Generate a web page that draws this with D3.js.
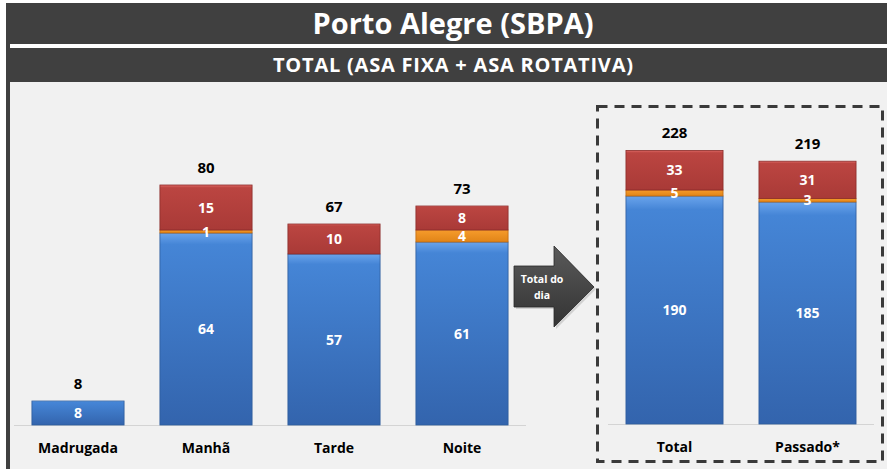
<!DOCTYPE html>
<html><head><meta charset="utf-8">
<script src="https://cdn.jsdelivr.net/npm/d3@7/dist/d3.min.js"></script>
<style>body{margin:0;background:#fff;}svg{display:block;font-family:"Open Sans",sans-serif;}</style>
</head><body>
<svg id="c" width="887" height="469"></svg>
<script>
const title = "Porto Alegre (SBPA)";
const subtitle = "TOTAL (ASA FIXA + ASA ROTATIVA)";
const periods = ["Madrugada", "Manhã", "Tarde", "Noite"];
const periodBlue = [8, 64, 57, 61];
const periodOrange = [0, 1, 0, 4];
const periodRed = [0, 15, 10, 8];
const summary = ["Total", "Passado*"];
const summaryBlue = [190, 185];
const summaryOrange = [5, 3];
const summaryRed = [33, 31];
const arrowText = ["Total do", "dia"];

const svg = d3.select("#c");
const defs = svg.append("defs");
function grad(id, c1, c2, c3) {
  const g = defs.append("linearGradient").attr("id", id).attr("x1", 0).attr("y1", 0).attr("x2", 0).attr("y2", 1);
  g.append("stop").attr("offset", "0").attr("stop-color", c1);
  g.append("stop").attr("offset", "0.06").attr("stop-color", c2);
  g.append("stop").attr("offset", "1").attr("stop-color", c3);
}
grad("gBlue", "#6aa4ec", "#4585d6", "#3364ad");
grad("gRed", "#e06a66", "#bb4541", "#a93a37");
grad("gOrange", "#ffc060", "#f59a2a", "#e08418");
const fills = {blue: "url(#gBlue)", orange: "url(#gOrange)", red: "url(#gRed)"};
const strokes = {blue: "#2e5c9c", orange: "#c06a10", red: "#8a2c2a"};

// frame
svg.append("rect").attr("x", 6).attr("y", 3).attr("width", 881).attr("height", 466).attr("fill", "#404040");
svg.append("rect").attr("x", 10).attr("y", 82).attr("width", 877).attr("height", 387).attr("fill", "#f1f1f1");
svg.append("rect").attr("x", 10).attr("y", 44).attr("width", 877).attr("height", 4).attr("fill", "#ffffff");
svg.append("text").attr("x", 453).attr("y", 34).attr("text-anchor", "middle").attr("fill", "#fff")
  .attr("font-size", 29).attr("font-weight", "bold").text(title);
svg.append("text").attr("x", 453).attr("y", 72).attr("text-anchor", "middle").attr("fill", "#fff")
  .attr("font-size", 20).attr("font-weight", "bold").attr("textLength", 360).text(subtitle);

function drawChart(cats, blue, orange, red, xRange, baseY, pxPerUnit, padIn) {
  const maxV = d3.max(cats.map((c, i) => blue[i] + orange[i] + red[i]));
  const x = d3.scaleBand().domain(cats).range(xRange).paddingInner(padIn).paddingOuter(padIn / 2);
  const y = d3.scaleLinear().domain([0, maxV]).range([baseY, baseY - maxV * pxPerUnit]);
  const g = svg.append("g");
  g.append("line").attr("x1", xRange[0]).attr("x2", xRange[1]).attr("y1", baseY + 0.5).attr("y2", baseY + 0.5)
    .attr("stroke", "#d4d4d4").attr("stroke-width", 1);
  const rows = cats.map((c, i) => {
    const segs = [];
    let acc = 0;
    [["blue", blue[i]], ["orange", orange[i]], ["red", red[i]]].forEach(([k, v]) => {
      if (v > 0) segs.push({cat: c, key: k, v, y0: acc, y1: acc + v});
      acc += v;
    });
    return {cat: c, total: acc, segs};
  });
  const all = rows.flatMap(r => r.segs);
  g.selectAll("rect.seg").data(all).join("rect").attr("class", "seg")
    .attr("x", d => x(d.cat)).attr("width", x.bandwidth())
    .attr("y", d => y(d.y1)).attr("height", d => y(d.y0) - y(d.y1))
    .attr("fill", d => fills[d.key]).attr("stroke", d => strokes[d.key]).attr("stroke-width", 0.8);
  g.selectAll("text.seg").data(all).join("text").attr("class", "seg")
    .attr("x", d => x(d.cat) + x.bandwidth() / 2).attr("y", d => (y(d.y0) + y(d.y1)) / 2 + 5)
    .attr("text-anchor", "middle").attr("fill", "#fff").attr("font-size", 14).attr("font-weight", "bold")
    .text(d => d.v);
  g.selectAll("text.tot").data(rows).join("text").attr("class", "tot")
    .attr("x", d => x(d.cat) + x.bandwidth() / 2).attr("y", d => y(d.total) - 12)
    .attr("text-anchor", "middle").attr("fill", "#000").attr("font-size", 15).attr("font-weight", "bold")
    .text(d => d.total);
  g.selectAll("text.cat").data(cats).join("text").attr("class", "cat")
    .attr("x", d => x(d) + x.bandwidth() / 2).attr("y", baseY + 28)
    .attr("text-anchor", "middle").attr("fill", "#000").attr("font-size", 14).attr("font-weight", "bold")
    .text(d => d);
}
drawChart(periods, periodBlue, periodOrange, periodRed, [14, 526], 425, 3.0, 0.28);
drawChart(summary, summaryBlue, summaryOrange, summaryRed, [608, 874], 424, 1.2, 0.27);

// dashed box
svg.append("rect").attr("x", 597.5).attr("y", 106.5).attr("width", 285).attr("height", 355)
  .attr("fill", "none").attr("stroke", "#3a3a3a").attr("stroke-width", 3).attr("stroke-dasharray", "10,7");

// arrow
const ag = defs.append("linearGradient").attr("id", "gArrow").attr("x1", 0).attr("y1", 0).attr("x2", 0).attr("y2", 1);
ag.append("stop").attr("offset", "0").attr("stop-color", "#5a5a5a");
ag.append("stop").attr("offset", "1").attr("stop-color", "#333");
const arrowPts = [[514, 266], [554, 266], [554, 246], [594, 287], [554, 327], [554, 307], [514, 307]];
svg.append("path").attr("d", d3.line()(arrowPts.map(p => [p[0] + 2, p[1] + 2])) + "Z").attr("fill", "#bdbdbd").attr("opacity", 0.6);
svg.append("path").attr("d", d3.line()(arrowPts) + "Z").attr("fill", "url(#gArrow)").attr("stroke", "#2a2a2a").attr("stroke-width", 0.8);
svg.append("text").attr("x", 542).attr("y", 283).attr("text-anchor", "middle").attr("fill", "#fff")
  .attr("font-size", 10.5).attr("font-weight", "bold").text(arrowText[0]);
svg.append("text").attr("x", 542).attr("y", 299).attr("text-anchor", "middle").attr("fill", "#fff")
  .attr("font-size", 10.5).attr("font-weight", "bold").text(arrowText[1]);
</script>
</body></html>
